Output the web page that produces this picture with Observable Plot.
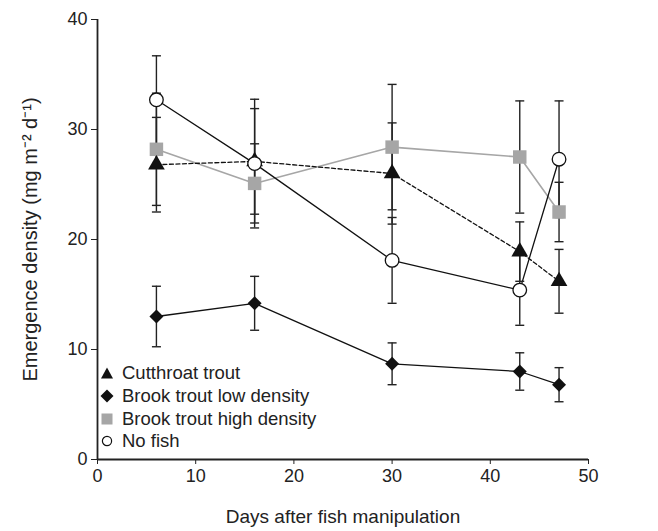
<!DOCTYPE html>
<html>
<head>
<meta charset="utf-8">
<script src="https://cdn.jsdelivr.net/npm/d3@7"></script>
<script src="https://cdn.jsdelivr.net/npm/@observablehq/plot@0.6"></script>
<style>
  html, body { margin: 0; padding: 0; background: #fff; }
  #wrap { position: relative; width: 658px; height: 531px; font-family: "Liberation Sans", Arial, sans-serif; }
  #legend { position: absolute; left: 99px; top: 362px; font-size: 18.5px; color: #222; }
  #legend .row { height: 22.7px; display: flex; align-items: center; }
  #legend svg { width: 16px; height: 16px; margin-right: 7px; }
</style>
</head>
<body>
<div id="wrap"></div>
<script>
const days = [6, 16, 30, 43, 47];
const seriesNames = ["Cutthroat trout", "Brook trout low density", "Brook trout high density", "No fish"];
const cutthroat   = [26.8, 27.1, 26.0, 18.9, 16.2];
const cutthroatSE = [4.3, 4.8, 4.6, 2.7, 2.9];
const brookLow    = [13.0, 14.2, 8.7, 8.0, 6.8];
const brookLowSE  = [2.75, 2.45, 1.9, 1.7, 1.55];
const brookHigh   = [28.2, 25.1, 28.4, 27.5, 22.5];
const brookHighSE = [5.1, 3.6, 5.7, 5.1, 2.7];
const noFish      = [32.7, 26.9, 18.1, 15.4, 27.3];
const noFishSE    = [4.0, 5.85, 3.9, 3.2, 5.3];
const xTicks = [0, 10, 20, 30, 40, 50];
const yTicks = [0, 10, 20, 30, 40];

const values = [cutthroat, brookLow, brookHigh, noFish];
const ses = [cutthroatSE, brookLowSE, brookHighSE, noFishSE];
const rows = [];
seriesNames.forEach((name, i) => {
  days.forEach((d, j) => {
    rows.push({series: name, day: d, v: values[i][j], lo: values[i][j] - ses[i][j], hi: values[i][j] + ses[i][j]});
  });
});
const of = name => rows.filter(r => r.series === name);

const capSymbol = { draw(ctx, size) { ctx.moveTo(-4.5, 0); ctx.lineTo(4.5, 0); } };

const style = {
  "Cutthroat trout": {line: {stroke: "#111", strokeWidth: 1.3, strokeDasharray: "4,2.5"}, dot: {symbol: "triangle", fill: "#111", r: 6.2}},
  "Brook trout low density": {line: {stroke: "#111", strokeWidth: 1.3}, dot: {symbol: "diamond2", fill: "#111", r: 6.3}},
  "Brook trout high density": {line: {stroke: "#a6a6a6", strokeWidth: 1.6}, dot: {symbol: "square", fill: "#a6a6a6", r: 7.6}},
  "No fish": {line: {stroke: "#111", strokeWidth: 1.3}, dot: {symbol: "circle", fill: "#fff", stroke: "#111", strokeWidth: 1.3, r: 6.8}}
};
const drawOrder = ["Brook trout high density", "Cutthroat trout", "No fish", "Brook trout low density"];

const marks = [];
for (const s of drawOrder) marks.push(Plot.line(of(s), {x: "day", y: "v", ...style[s].line}));
for (const s of drawOrder) {
  marks.push(Plot.ruleX(of(s), {x: "day", y1: "lo", y2: "hi", stroke: "#222", strokeWidth: 1.4}));
  marks.push(Plot.dot(of(s), {x: "day", y: "lo", symbol: capSymbol, stroke: "#222", strokeWidth: 1.4, fill: "none"}));
  marks.push(Plot.dot(of(s), {x: "day", y: "hi", symbol: capSymbol, stroke: "#222", strokeWidth: 1.4, fill: "none"}));
}
for (const s of drawOrder) marks.push(Plot.dot(of(s), {x: "day", y: "v", ...style[s].dot}));

const chart = Plot.plot({
  width: 658,
  height: 531,
  marginLeft: 97,
  marginRight: 70,
  marginTop: 19,
  marginBottom: 72,
  style: {fontFamily: "'Liberation Sans', Arial, sans-serif", fontSize: "18px", color: "#222", background: "#fff"},
  x: {domain: [0, 50]},
  y: {domain: [0, 40]},
  marks: [
    Plot.axisX({ticks: xTicks, tickSize: 5, tickPadding: 5, fontSize: 18, label: null, stroke: "#222"}),
    Plot.axisY({ticks: yTicks, tickSize: 6, tickPadding: 4, fontSize: 18, label: null, stroke: "#222"}),
    Plot.ruleX([0], {stroke: "#222", strokeWidth: 1.8}),
    Plot.ruleY([0], {stroke: "#222", strokeWidth: 1.8}),
    Plot.text(["Emergence density (mg m\u207B\u00B2 d\u207B\u00B9)"], {frameAnchor: "left", textAnchor: "middle", rotate: -90, dx: -67, fontSize: 20, fill: "#222"}),
    Plot.text(["Days after fish manipulation"], {frameAnchor: "bottom", textAnchor: "middle", dy: 63, fontSize: 19, fill: "#222"}),
    ...marks
  ]
});
const wrap = document.getElementById("wrap");
wrap.appendChild(chart);

// Legend
const legendSymbols = {
  "Cutthroat trout": '<path d="M8 2.5 L14 13.5 L2 13.5 Z" fill="#111"/>',
  "Brook trout low density": '<path d="M8 1.5 L14.5 8 L8 14.5 L1.5 8 Z" fill="#111"/>',
  "Brook trout high density": '<rect x="2.5" y="2.5" width="11" height="11" fill="#a6a6a6"/>',
  "No fish": '<circle cx="8" cy="8" r="4.6" fill="#fff" stroke="#111" stroke-width="1.2"/>'
};
const legend = document.createElement("div");
legend.id = "legend";
legend.innerHTML = seriesNames.map(n =>
  `<div class="row"><svg viewBox="0 0 16 16">${legendSymbols[n]}</svg><span>${n}</span></div>`).join("");
wrap.appendChild(legend);
</script>
</body>
</html>
